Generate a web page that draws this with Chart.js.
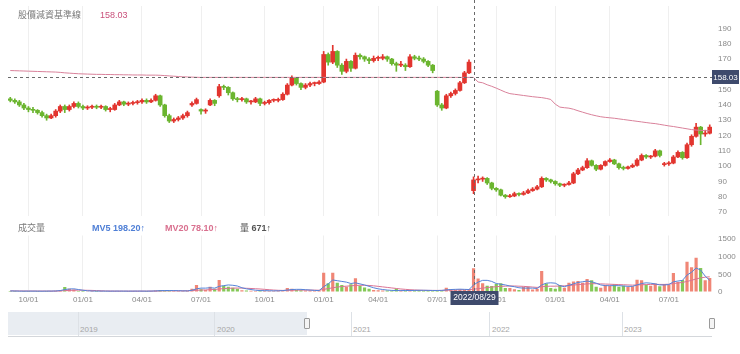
<!DOCTYPE html>
<html>
<head>
<meta charset="utf-8">
<script src="https://cdn.jsdelivr.net/npm/chart.js@4.4.1/dist/chart.umd.min.js"></script>
<style>
  html, body { margin: 0; padding: 0; background: #fff; }
  body { width: 740px; height: 354px; position: relative; overflow: hidden;
         font-family: "Liberation Sans", Arial, "Noto Sans CJK TC", sans-serif; }
  .pane { position: absolute; left: 0; width: 740px; }
  #pricePane { top: 0; height: 222px; }
  #volPane { top: 222px; height: 84px; }
  .txt { position: absolute; font-size: 9px; line-height: 12px; white-space: nowrap; }
  .cjk { font-family: "Noto Sans CJK TC", sans-serif; }
  #nav { position: absolute; left: 0; top: 306px; width: 740px; height: 40px; }
  .shade { position: absolute; left: 8px; top: 6px; width: 299px; height: 23px; background: #e9edf2; }
  .navLine { position: absolute; top: 6px; width: 1px; height: 24px; background: #dde1e6; }
  .navBase { position: absolute; left: 8px; top: 30px; width: 704px; height: 1px; background: #d4d7db; }
  .year { position: absolute; top: 19px; font-size: 8px; line-height: 10px; color: #a6a6a6; }
  .handle { position: absolute; top: 12px; width: 4px; height: 9px; background: #f4f4f4; border: 1px solid #9a9a9a; border-radius: 1px; }
</style>
</head>
<body>
<div class="pane" id="pricePane"><canvas id="priceChart"></canvas></div>
<div class="pane" id="volPane"><canvas id="volChart"></canvas></div>

<div class="txt cjk" style="left:18px; top:9px; color:#7a7a7a;">股價減資基準線</div>
<div class="txt" style="left:100px; top:9px; color:#c9507b;">158.03</div>

<div class="txt cjk" style="left:18px; top:222px; color:#7a7a7a;">成交量</div>
<div class="txt" style="left:92px; top:222px; color:#4f7fd6; font-weight:bold;">MV5 198.20↑</div>
<div class="txt" style="left:165px; top:222px; color:#d9708f; font-weight:bold;">MV20 78.10↑</div>
<div class="txt" style="left:240px; top:222px; color:#555;"><span class="cjk">量</span> <b>671↑</b></div>

<div id="nav">
  <div class="shade"></div>
  <div class="navLine" style="left:78px"></div>
  <div class="navLine" style="left:214px"></div>
  <div class="navLine" style="left:351px"></div>
  <div class="navLine" style="left:489px"></div>
  <div class="navLine" style="left:622px"></div>
  <div class="navBase"></div>
  <div class="year" style="left:80px">2019</div>
  <div class="year" style="left:217px">2020</div>
  <div class="year" style="left:353px">2021</div>
  <div class="year" style="left:492px">2022</div>
  <div class="year" style="left:624px">2023</div>
  <div class="handle" style="left:304px"></div>
  <div class="handle" style="left:709px"></div>
</div>

<script>
// weekly candles, Sep 2020 - Sep 2023 (holiday weeks left out)
const dates = [
  '2020/09/07','2020/09/14','2020/09/21','2020/09/28','2020/10/05','2020/10/12','2020/10/19','2020/10/26','2020/11/02','2020/11/09',
  '2020/11/16','2020/11/23','2020/11/30','2020/12/07','2020/12/14','2020/12/21','2020/12/28','2021/01/04','2021/01/11','2021/01/18',
  '2021/01/25','2021/02/01','2021/02/08','2021/02/15','2021/02/22','2021/03/01','2021/03/08','2021/03/15','2021/03/22','2021/03/29',
  '2021/04/05','2021/04/12','2021/04/19','2021/04/26','2021/05/03','2021/05/10','2021/05/17','2021/05/24','2021/05/31','2021/06/07',
  '2021/06/14','2021/06/21','2021/06/28','2021/07/05','2021/07/12','2021/07/19','2021/07/26','2021/08/02','2021/08/09','2021/08/16',
  '2021/08/23','2021/08/30','2021/09/06','2021/09/13','2021/09/20','2021/09/27','2021/10/04','2021/10/11','2021/10/18','2021/10/25',
  '2021/11/01','2021/11/08','2021/11/15','2021/11/22','2021/11/29','2021/12/06','2021/12/13','2021/12/20','2021/12/27','2022/01/03',
  '2022/01/10','2022/01/17','2022/01/24','2022/02/07','2022/02/14','2022/02/21','2022/02/28','2022/03/07','2022/03/14','2022/03/21',
  '2022/03/28','2022/04/04','2022/04/11','2022/04/18','2022/04/25','2022/05/02','2022/05/09','2022/05/16','2022/05/23','2022/05/30',
  '2022/06/06','2022/06/13','2022/06/20','2022/06/27','2022/07/04','2022/07/11','2022/07/18','2022/07/25','2022/08/01','2022/08/08',
  '2022/08/15','2022/08/22','2022/08/29','2022/09/05','2022/09/12','2022/09/19','2022/09/26','2022/10/03','2022/10/10','2022/10/17',
  '2022/10/24','2022/10/31','2022/11/07','2022/11/14','2022/11/21','2022/11/28','2022/12/05','2022/12/12','2022/12/19','2022/12/26',
  '2023/01/02','2023/01/09','2023/01/16','2023/01/30','2023/02/06','2023/02/13','2023/02/20','2023/02/27','2023/03/06','2023/03/13',
  '2023/03/20','2023/03/27','2023/04/03','2023/04/10','2023/04/17','2023/04/24','2023/05/01','2023/05/08','2023/05/15','2023/05/22',
  '2023/05/29','2023/06/05','2023/06/12','2023/06/19','2023/06/26','2023/07/03','2023/07/10','2023/07/17','2023/07/24','2023/07/31',
  '2023/08/07','2023/08/14','2023/08/21','2023/08/28','2023/09/04'
];

const opens = [
  144,143,142,140,138,137,136.5,135,133,131.5,
  133,136,139,137,139,141,139,138,138.5,139,
  138.5,139,137,137,140,142,140.5,141,141.5,142,
  143,142,143,146,140,133,129.5,130.5,131.5,133,
  140,141,137,136,140,143,146,152,151.5,148,
  144,143.5,144,142,142,144,141,141.5,143,143,
  143.5,147,153,157.5,154,151.5,153,154,154,155,
  173,168,175,166,162,168.5,164,172.5,171.5,170,
  169,170.5,170.5,171.5,170,167,166,166,165,171.5,
  170.5,170,168.5,166,149,140,138,146,147.5,149.5,
  154.5,161,84,91,91.5,92,89,85.5,84.5,81,
  80,80.5,82,81.5,82.5,84,85,86.5,92,91,
  90,88.5,87.5,88,89,95,97.5,99,103.5,100.5,
  98,100.5,103,104,101.5,99,98.5,99.5,100.5,104,
  107,106,106.5,110,101,101.5,102,106,109,105.5,
  114,119.5,125.5,121,121.5
];
const highs = [
  145,144,143,141,139,138.5,137,136,134,134,
  137,140,140,140,142,142,140,139.5,140,140,
  140,139.5,138.5,141,143,142.5,142,142.5,143,144,
  144,144,147,146.5,140.5,134,131.5,132.5,134,136,
  142,144.5,137.5,137.5,144,143.5,153.5,153,152,148.5,
  145,145,144.5,143,145,144.5,142.5,143.5,144,144.5,
  148,154,159,158,154.5,154,155,155,156,175,
  174,179,175.5,167,170,169,174,173.5,172,171,
  172,172,173,172,170.5,168,168.5,167,173,172.5,
  172,171,169,166.5,149.5,141,147,148.5,150.5,155.5,
  162,169.5,93,93.5,93,92.5,89.5,86,85,81.5,
  81.5,83,82.5,83.5,85,86,87.5,93,92.5,91.5,
  90.5,89,88.5,90,96,98.5,100,105,104,101,
  101,103.5,105,104.5,102,100,100,101.5,105,108,
  107.5,107,111,110.5,102.5,103,107,110,109.5,115,
  120.5,128,126,123.5,127
];
const lows = [
  142,141,139,137,135.5,135,134,132,130,131,
  132,135,135,136,138,138,137,137,137.5,137.5,
  137.5,136,135.5,136.5,139.5,139.5,139.5,140,140.5,141,
  141,141.5,142.5,139,132,128.5,128.5,129.5,130.5,132,
  139,140.5,134,134.5,139.5,139.5,145,150,146.5,143,
  142,142.5,141,140.5,141.5,139.5,140,140.5,142,142,
  143,146.5,152.5,153,150,150.5,152,152.5,153.5,154.5,
  166,167,164.5,160,161,162,163.5,170,168.5,167,
  168,169,169.5,168.5,166,162,165,162.5,164.5,169.5,
  169,167.5,165,161,139,136.5,137.5,145,146.5,149,
  154,160.5,82,89,90,88,84.5,83.5,80.5,79,
  79.5,80,80.5,81,82,83.5,84.5,86,90,89,
  87.5,86.5,86.5,87.5,88.5,94.5,97,98.5,100,97,
  97.5,100,102.5,101,98,97.5,98,99,100,103.5,
  105,105,106,106,100,100.5,101.5,105.5,104.5,105,
  113,119,114,119.5,121
];
const closes = [
  143,142,140,138,137,136.5,135,133,131.5,133,
  136,139,137,139,141,139,138,138.5,139,138.5,
  139,137,137,140,142,140.5,141,141.5,142,143,
  142,143,146,140,133,129.5,130.5,131.5,133,135,
  141,143.5,136,136,143,141,152,151.5,148,144,
  143.5,144,142,142,144,141,141.5,143,143,143.5,
  147,153,157.5,154,151.5,153,154,154,155,173,
  168,175,166,162,168.5,164,172.5,171.5,170,169,
  170.5,170.5,171.5,170,167,166,166,165,171.5,170.5,
  170,168.5,166,162.5,140,138,146,147.5,149.5,154.5,
  161,168,91,91.5,92,89,85.5,84.5,81,80,
  80.5,82,81.5,82.5,84,85,86.5,92,91,90,
  88.5,87.5,88,89,95,97.5,99,103.5,100.5,98,
  100.5,103,104,101.5,99,98.5,99.5,100.5,104,107,
  106,106.5,110,107,101.5,102,106,109,105.5,114,
  119.5,125.5,121,121.5,125.5
];

// pink baseline
const baseLine = [
  162.5,162.4,162.3,162.2,162.1,162.0,161.9,161.8,161.7,161.6,
  161.5,161.3,161.0,160.8,160.6,160.4,160.3,160.2,160.1,160.0,
  160.0,159.9,159.9,159.8,159.8,159.7,159.7,159.6,159.6,159.6,
  159.5,159.5,159.5,159.4,159.2,159.0,158.8,158.6,158.4,158.3,
  158.2,158.1,158.0,158.03,158.03,158.03,158.03,158.03,158.03,158.03,
  158.03,158.03,158.03,158.03,158.03,158.03,158.03,158.03,158.03,158.03,
  158.03,158.03,158.03,158.03,158.03,158.03,158.03,158.03,158.03,158.03,
  158.03,158.03,158.03,158.03,158.03,158.03,158.03,158.03,158.03,158.03,
  158.03,158.03,158.03,158.03,158.03,158.03,158.03,158.03,158.03,158.03,
  158.03,158.03,158.03,158.03,158.03,158.03,158.03,158.03,158.03,158.03,
  158.03,158.03,158.03,155.0,154.5,153.2,152.2,151.0,149.7,148.4,
  147.4,147.0,146.6,146.2,145.8,145.4,145.1,144.8,144.3,143.6,
  140.5,138.6,138.2,137.9,137.2,136.2,135.3,134.4,133.6,132.9,
  132.3,131.9,131.6,131.3,130.9,130.5,130.1,129.7,129.3,128.9,
  128.5,128.1,127.8,127.3,126.8,126.3,125.9,125.4,124.9,124.4,
  123.9,123.6,123.4,123.2,123.1
];

const volumes = [
  30,25,20,25,30,20,25,20,30,25,
  35,60,140,90,70,30,25,20,25,30,
  25,20,25,30,25,20,25,30,25,20,
  25,30,40,60,45,35,30,25,30,35,
  90,200,80,60,150,90,340,180,150,120,
  90,50,40,35,30,40,35,30,30,35,
  60,110,90,60,50,45,40,35,40,545,
  250,545,260,200,150,220,390,170,130,90,
  60,50,45,40,40,90,40,45,40,50,
  60,45,40,35,40,45,120,80,60,70,
  60,80,671,380,250,180,170,230,250,110,
  110,80,60,150,150,70,90,595,240,110,
  90,200,120,260,300,310,260,370,330,150,
  120,200,170,220,150,180,140,160,350,330,
  200,180,240,160,230,200,540,280,340,860,
  700,970,680,330,400
];
const mv5 = [
  30,28,25,24,25,25,24,23,25,26,
  28,40,70,85,90,70,50,35,28,26,
  26,25,24,25,26,25,24,25,26,25,
  24,26,30,38,42,42,40,36,32,30,
  50,90,110,110,120,110,160,180,200,190,
  170,120,90,70,50,40,38,35,33,33,
  40,55,70,75,75,65,55,45,40,150,
  230,340,320,300,280,240,260,230,200,160,
  120,90,70,55,45,42,40,42,42,45,
  48,48,46,43,42,45,60,70,75,80,
  75,70,198,280,330,330,300,240,220,200,
  170,150,120,110,110,110,100,200,250,260,
  250,180,150,190,230,270,290,310,290,250,
  200,180,180,180,180,170,160,160,200,240,
  260,250,230,200,200,210,290,310,330,480,
  560,680,620,450,330
];
const mv20 = [
  32,31,30,29,28,28,27,27,27,27,
  28,32,40,45,50,52,50,48,45,40,
  35,30,28,27,26,26,26,26,26,26,
  26,27,28,30,32,34,35,36,36,36,
  40,48,55,60,66,72,85,95,105,110,
  112,110,105,100,92,85,75,65,55,48,
  45,47,50,52,54,55,55,53,50,75,
  95,120,140,155,165,175,185,190,190,185,
  175,160,145,130,115,100,85,75,65,58,
  52,48,46,45,45,46,50,54,58,62,
  65,68,78,95,110,125,140,150,160,165,
  170,170,165,160,150,140,130,150,160,165,
  165,170,175,185,195,210,220,230,235,235,
  230,225,220,215,210,205,200,195,200,205,
  210,215,215,215,215,220,240,255,270,300,
  330,370,400,420,430
];

const tickDates = ['2020/10/05','2020/12/28','2021/03/29','2021/06/28','2021/10/04','2022/01/03',
                   '2022/04/04','2022/07/04','2022/10/03','2023/01/02','2023/04/03','2023/07/03'];
const tickText = ['10/01','01/01','04/01','07/01','10/01','01/01','04/01','07/01','10/01','01/01','04/01','07/01'];
const priceTicks = [70, 80, 90, 100, 110, 120, 130, 140, 150, 160, 170, 180, 190];
const volTicks = [0, 500, 1000, 1500];

const crossDate = '2022/08/29';
const crossValue = 158.03;

const RED = '#e2352f';
const GREEN = '#6bb52f';
const FONT = '"Liberation Sans", Arial, sans-serif';

const up = closes.map((c, i) => c >= opens[i]);
const candleColors = up.map(u => u ? RED : GREEN);
const volColors = up.map(u => u ? 'rgba(236,104,84,0.8)' : 'rgba(110,190,58,0.85)');
const tickIdx = tickDates.map(d => dates.indexOf(d));
const crossIdx = dates.indexOf(crossDate);

function keepQuarterTicks(scale) {
  scale.ticks = tickIdx.map(v => ({ value: v }));
}

// right axis: labels pushed 6px right by an invisible tick mark
const rightGrid = { display: true, drawOnChartArea: false, drawTicks: true, tickLength: 6, tickColor: 'rgba(0,0,0,0)' };
const rightTicks = {
  autoSkip: false,
  padding: 0,
  color: '#8a8a8a',
  font: { size: 8, family: FONT },
  callback: v => String(v)
};

const priceCross = {
  id: 'priceCross',
  afterDraw(chart) {
    const { ctx, chartArea: a, scales } = chart;
    const x = Math.round(scales.x.getPixelForValue(crossIdx)) + 0.5;
    const y = Math.round(scales.y.getPixelForValue(crossValue)) + 0.5;
    ctx.save();
    ctx.strokeStyle = '#6a6a6a';
    ctx.lineWidth = 1;
    ctx.setLineDash([3, 3]);
    ctx.beginPath();
    ctx.moveTo(x, 0);
    ctx.lineTo(x, chart.height);
    ctx.moveTo(a.left, y);
    ctx.lineTo(a.right, y);
    ctx.stroke();
    ctx.setLineDash([]);
    ctx.fillStyle = '#3e4a6c';
    ctx.fillRect(a.right, y - 7.5, 27, 14);
    ctx.fillStyle = '#fff';
    ctx.font = '8px ' + FONT;
    ctx.textAlign = 'center';
    ctx.textBaseline = 'middle';
    ctx.fillText(crossValue.toFixed(2), a.right + 13.5, y);
    ctx.restore();
  }
};

const volCross = {
  id: 'volCross',
  afterDraw(chart) {
    const { ctx, chartArea: a, scales } = chart;
    const x = Math.round(scales.x.getPixelForValue(crossIdx)) + 0.5;
    ctx.save();
    ctx.strokeStyle = '#6a6a6a';
    ctx.lineWidth = 1;
    ctx.setLineDash([3, 3]);
    ctx.beginPath();
    ctx.moveTo(x, 0);
    ctx.lineTo(x, a.bottom);
    ctx.stroke();
    ctx.setLineDash([]);
    ctx.fillStyle = '#3e4a6c';
    ctx.fillRect(x - 24, a.bottom - 1, 48, 14);
    ctx.fillStyle = '#fff';
    ctx.font = '8.5px ' + FONT;
    ctx.textAlign = 'center';
    ctx.textBaseline = 'middle';
    ctx.fillText(crossDate, x, a.bottom + 6);
    ctx.restore();
  }
};

new Chart(document.getElementById('priceChart'), {
  type: 'bar',
  data: {
    labels: dates,
    datasets: [
      {
        type: 'line',
        data: baseLine,
        borderColor: '#d9819a',
        borderWidth: 1,
        pointRadius: 0,
        tension: 0,
        order: 0
      },
      {
        data: opens.map((o, i) => [o, closes[i]]),
        backgroundColor: candleColors,
        barThickness: 4,
        minBarLength: 1,
        grouped: false,
        order: 1
      },
      {
        data: lows.map((l, i) => [l, highs[i]]),
        backgroundColor: candleColors,
        barThickness: 1,
        grouped: false,
        order: 2
      }
    ]
  },
  options: {
    responsive: true,
    maintainAspectRatio: false,
    animation: false,
    layout: { padding: { left: 8, top: 6, bottom: 6, right: 0 } },
    plugins: { legend: { display: false }, tooltip: { enabled: false } },
    scales: {
      x: {
        offset: true,
        grid: { color: '#efefef', offset: false, drawTicks: false },
        border: { display: false },
        ticks: { display: false },
        afterBuildTicks: keepQuarterTicks,
        afterFit: s => { s.height = 0; }
      },
      y: {
        position: 'right',
        min: 67.4,
        max: 204.7,
        grid: rightGrid,
        border: { display: false },
        ticks: rightTicks,
        afterBuildTicks: s => { s.ticks = priceTicks.map(v => ({ value: v })); },
        afterFit: s => { s.width = 28; }
      }
    }
  },
  plugins: [priceCross]
});

new Chart(document.getElementById('volChart'), {
  type: 'bar',
  data: {
    labels: dates,
    datasets: [
      {
        type: 'line',
        data: mv5,
        borderColor: '#5583d8',
        borderWidth: 1,
        pointRadius: 0,
        tension: 0,
        order: 0
      },
      {
        type: 'line',
        data: mv20,
        borderColor: '#da7393',
        borderWidth: 1,
        pointRadius: 0,
        tension: 0,
        order: 1
      },
      {
        data: volumes,
        backgroundColor: volColors,
        barPercentage: 0.7,
        categoryPercentage: 1,
        order: 2
      }
    ]
  },
  options: {
    responsive: true,
    maintainAspectRatio: false,
    animation: false,
    layout: { padding: { left: 8, top: 13.5, bottom: 0, right: 0 } },
    plugins: { legend: { display: false }, tooltip: { enabled: false } },
    scales: {
      x: {
        offset: true,
        grid: { color: '#efefef', offset: false, drawTicks: false },
        border: { display: false },
        ticks: {
          autoSkip: false,
          maxRotation: 0,
          padding: 3,
          color: '#8a8a8a',
          font: { size: 8, family: FONT },
          callback: v => {
            const k = tickIdx.indexOf(v);
            return k >= 0 ? tickText[k] : '';
          }
        },
        afterBuildTicks: keepQuarterTicks,
        afterFit: s => { s.height = 14; }
      },
      y: {
        position: 'right',
        min: 0,
        max: 1600,
        grid: rightGrid,
        border: { display: false },
        ticks: rightTicks,
        afterBuildTicks: s => { s.ticks = volTicks.map(v => ({ value: v })); },
        afterFit: s => { s.width = 28; }
      }
    }
  },
  plugins: [volCross]
});
</script>
</body>
</html>
